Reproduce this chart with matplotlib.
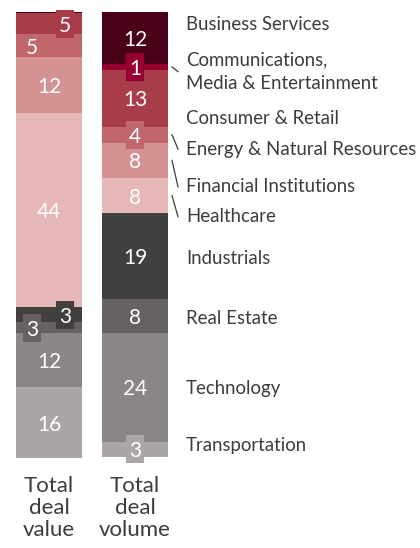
import matplotlib
matplotlib.use("Agg")
import matplotlib.pyplot as plt
from matplotlib.patches import Rectangle
import numpy as np

# sectors, top to bottom in the stacked bars
sectors = ["Business Services", "Communications,\nMedia & Entertainment", "Consumer & Retail",
           "Energy & Natural Resources", "Financial Institutions", "Healthcare",
           "Industrials", "Real Estate", "Technology", "Transportation"]
deal_value = [0.3, 0.0, 4.7, 5.2, 12.5, 43.6, 3.4, 2.5, 12.1, 15.9]
deal_volume = [11.7, 1.3, 12.8, 3.6, 7.9, 7.9, 19.3, 7.6, 24.5, 3.4]
value_labels = ["", "", "5", "5", "12", "44", "3", "3", "12", "16"]
volume_labels = ["12", "1", "13", "4", "8", "8", "19", "8", "24", "3"]
bar_names = ["Total\ndeal\nvalue", "Total\ndeal\nvolume"]

colors = ["#4a0019", "#960030", "#a83c49", "#c0666c", "#d49392", "#e5b8b7",
          "#42403e", "#666261", "#8a8685", "#aaa6a5"]

# label placement (layout only)
value_style = [None, None, "box_r", "left", "mid", "mid", "box_r", "box_l", "mid", "mid"]
volume_style = ["mid", "box", "mid", "box", "mid", "mid", "mid", "mid", "mid", "box"]
name_y = [2.9, 13.4, 23.9, 30.8, 39.3, 46.0, 55.4, 68.9, 84.6, 97.5]
leader = [False, True, False, True, True, True, False, False, False, False]

plt.rcParams['font.family'] = ['Lato', 'DejaVu Sans']

fig = plt.figure(figsize=(4.2, 5.48), dpi=100)
ax = fig.add_axes([0, 0, 1, 1])
ax.set_xlim(-0.570, 4.314)
ax.set_ylim(120.45, -2.70)
ax.axis("off")

px_x = 1 / 86.0
px_y = 1 / 4.45
width = 66 * px_x
box_w, box_h = 18 * px_x, 28 * px_y


def draw_bar(x, vals, labels, styles):
    bottoms = np.concatenate([[0], np.cumsum(vals)[:-1]])
    ax.bar([x] * len(vals), vals, bottom=bottoms, width=width, color=colors,
           edgecolor="none", align="center")
    centers = bottoms + np.array(vals) / 2
    for c, lab, st, col in zip(centers, labels, styles, colors):
        if not lab or st is None:
            continue
        tx = x
        if st == "box_r":
            tx = x + 16 * px_x
        elif st in ("box_l", "left"):
            tx = x - 17 * px_x
        if st.startswith("box"):
            ax.add_patch(Rectangle((tx - box_w / 2, c - box_h / 2), box_w, box_h,
                                   facecolor=col, edgecolor="none", zorder=3))
        ax.text(tx, c, lab, color="white", fontsize=15, ha="center", va="center_baseline",
                zorder=4)
    return centers


draw_bar(0, deal_value, value_labels, value_style)
vol_centers = draw_bar(1, deal_volume, volume_labels, volume_style)

lx = 1 + (186 - 135) * px_x
for name, y, c, flag in zip(sectors, name_y, vol_centers, leader):
    ax.text(lx, y, name, fontsize=13.4, color="#3c3c3c", ha="left", va="center",
            linespacing=1.45)
    if flag:
        ax.plot([1 + 37 * px_x, 1 + 43 * px_x], [c, y], color="#3c3c3c", lw=0.9)

for i, nm in enumerate(bar_names):
    ax.text(i, 104.3, nm, fontsize=16, color="#3c3c3c", ha="center", va="top",
            linespacing=1.13)

fig.savefig("out.png", dpi=100)
